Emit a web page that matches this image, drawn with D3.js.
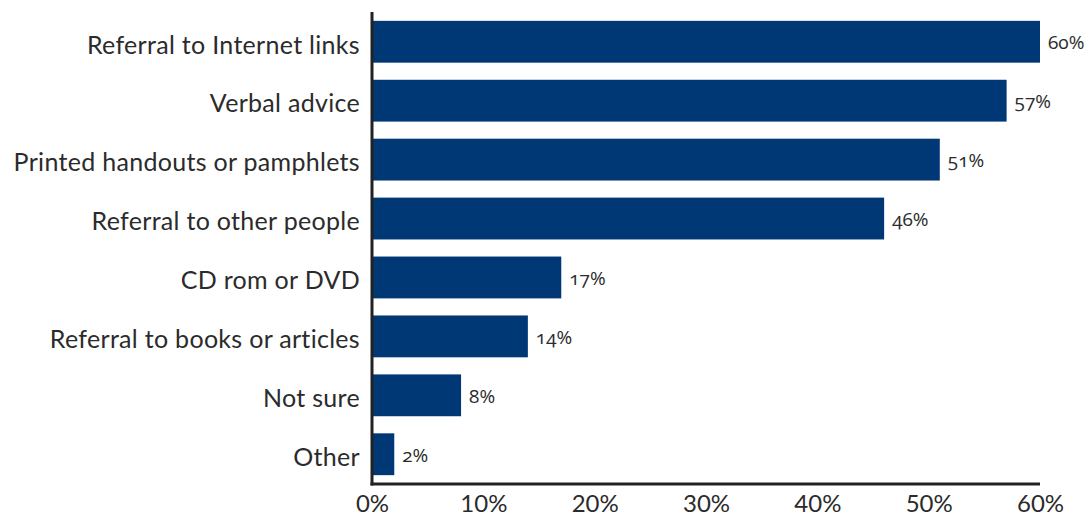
<!DOCTYPE html>
<html>
<head>
<meta charset="utf-8">
<script src="https://cdn.jsdelivr.net/npm/d3@7"></script>
<style>
  html, body { margin: 0; padding: 0; background: #fff; }
  svg { display: block; }
  .cat text { font-family: "Lato", "Open Sans", sans-serif; font-size: 25px; letter-spacing: 0.3px; fill: #2b2b2b; }
  .xax text { font-family: "Lato", "Open Sans", sans-serif; font-size: 24px; fill: #2b2b2b; }
  .val { font-family: "Open Sans", "Lato", sans-serif; font-size: 19px; fill: #2b2b2b; font-variant-numeric: oldstyle-nums; }
</style>
</head>
<body>
<svg id="chart" width="1091" height="518"></svg>
<script>
// Sources of information offered, share of respondents
const categories = [
  "Referral to Internet links",
  "Verbal advice",
  "Printed handouts or pamphlets",
  "Referral to other people",
  "CD rom or DVD",
  "Referral to books or articles",
  "Not sure",
  "Other"
];
const values = [60, 57, 51, 46, 17, 14, 8, 2];
const tickValues = [0, 10, 20, 30, 40, 50, 60];

const svg = d3.select("#chart");
const margin = { top: 12, right: 51, bottom: 34, left: 372 };
const W = 1091, H = 518;

const x = d3.scaleLinear()
  .domain([0, 60])
  .range([margin.left, W - margin.right]);

const y = d3.scaleBand()
  .domain(categories)
  .range([margin.top, H - margin.bottom])
  .paddingInner(0.29)
  .paddingOuter(0.15);

const barColor = "#003876";

// Bars
svg.append("g")
  .selectAll("rect")
  .data(categories)
  .join("rect")
  .attr("x", x(0))
  .attr("y", d => y(d))
  .attr("width", (d, i) => x(values[i]) - x(0))
  .attr("height", y.bandwidth())
  .attr("fill", barColor);

// Value labels
svg.append("g")
  .selectAll("text")
  .data(categories)
  .join("text")
  .attr("class", "val")
  .attr("x", (d, i) => x(values[i]) + 8)
  .attr("y", d => y(d) + y.bandwidth() / 2)
  .attr("dy", "0.4em")
  .text((d, i) => values[i] + "%");

// Category axis
const yAxis = svg.append("g")
  .attr("class", "cat")
  .attr("transform", `translate(${margin.left},0)`)
  .call(d3.axisLeft(y).tickSize(0).tickPadding(12));
yAxis.select(".domain").remove();
yAxis.selectAll("text").attr("dy", "0.47em");

// Value axis
const xAxis = svg.append("g")
  .attr("class", "xax")
  .attr("transform", `translate(0,${H - margin.bottom})`)
  .call(d3.axisBottom(x).tickValues(tickValues).tickSize(0).tickPadding(11)
    .tickFormat(d => d + "%"));
xAxis.select(".domain").remove();

// Axis lines
svg.append("line")
  .attr("x1", x(0)).attr("x2", x(0))
  .attr("y1", margin.top).attr("y2", H - margin.bottom + 1.5)
  .attr("stroke", "#222").attr("stroke-width", 3);
svg.append("line")
  .attr("x1", x(0) - 1.5).attr("x2", x(60))
  .attr("y1", H - margin.bottom).attr("y2", H - margin.bottom)
  .attr("stroke", "#222").attr("stroke-width", 3);
</script>
</body>
</html>
